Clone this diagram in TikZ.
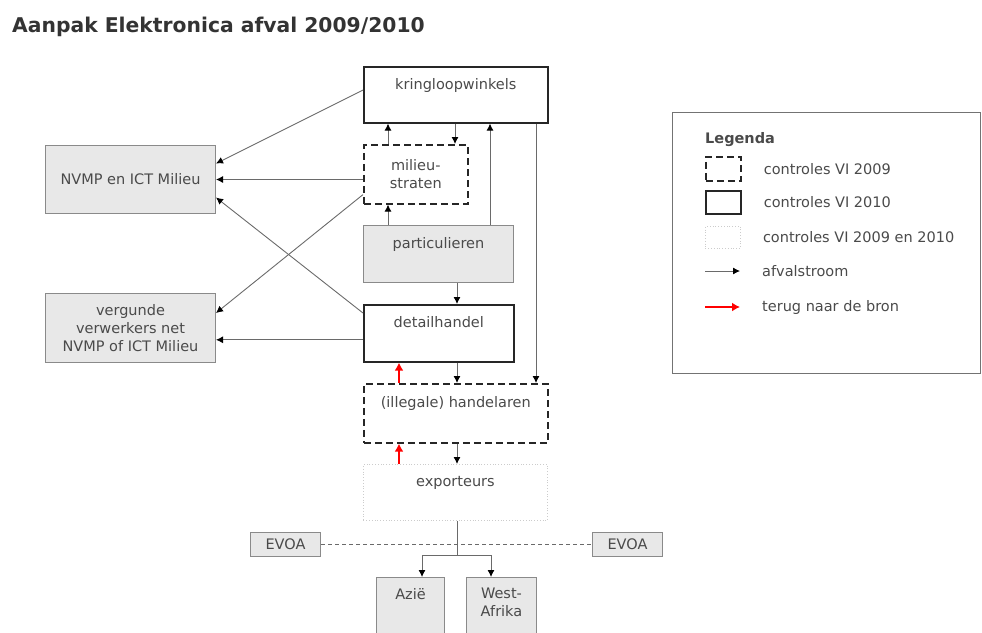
\documentclass[tikz,border=0pt]{standalone}
\usepackage{fontspec}
\setmainfont{DejaVu Sans}
\usetikzlibrary{arrows.meta,positioning}
\definecolor{tekst}{HTML}{4A4A4A}
\definecolor{vlak}{HTML}{E8E8E8}
\definecolor{rand}{HTML}{8A8A8A}
\definecolor{lijn}{HTML}{6A6A6A}

\begin{document}
\begin{tikzpicture}[x=1pt, y=-1pt,
    every node/.style={font=\fontsize{14.5}{18}\selectfont, text=tekst, inner sep=0pt},
    vak/.style={rectangle, anchor=north west},
    grijs/.style={vak, fill=vlak, draw=rand, line width=1pt},
    vi09/.style={vak, draw=black!85, line width=1.6pt, dash pattern=on 7pt off 4pt},
    vi10/.style={vak, draw=black!85, line width=1.6pt},
    vi0910/.style={vak, draw=black!20, line width=0.8pt, dotted},
    boven/.style={text height=11pt, text depth=22pt},
    stroom/.style={draw=lijn, line width=0.9pt, -{Latex[length=7pt,width=7pt,color=black]}},
    terug/.style={draw=red, line width=1.6pt, -{Latex[length=8pt,width=9pt,color=red]}}]
\useasboundingbox (0,0) rectangle (982,632);

\node[anchor=base west, text=black!80, font=\bfseries\fontsize{20.3}{24}\selectfont] (titel) at (12,32) {Aanpak Elektronica afval 2009/2010};

% schema
\node[vi10, boven, minimum width=184pt, minimum height=56pt] (kring) at (363,66) {kringloopwinkels};
\node[grijs, minimum width=170pt, minimum height=68pt] (nvmp) at (45,145) {NVMP en ICT Milieu};
\node[vi09, align=center, minimum width=104pt, minimum height=59pt] (milieu) at (363,144) {milieu-\\straten};
\node[grijs, boven, minimum width=150pt, minimum height=57pt] (part) at (363,225) {particulieren};
\node[vi10, boven, minimum width=150pt, minimum height=57pt] (detail) at (363,304) {detailhandel};
\node[grijs, align=center, minimum width=170pt, minimum height=69pt] (verg) at (45,293) {vergunde\\verwerkers net\\NVMP of ICT Milieu};
\node[vi09, boven, minimum width=184pt, minimum height=59pt] (hand) at (363,383) {(illegale) handelaren};
\node[vi0910, boven, minimum width=184pt, minimum height=56pt] (exp) at (363,464) {exporteurs};
\node[grijs, minimum width=70pt, minimum height=24pt] (evoaL) at (250,532) {EVOA};
\node[grijs, minimum width=70pt, minimum height=24pt] (evoaR) at (592,532) {EVOA};
\node[grijs, text height=11pt, text depth=30pt, minimum width=68pt, minimum height=62pt] (azie) at (376,577) {Azië};
\node[grijs, align=center, text depth=12pt, minimum width=70pt, minimum height=62pt] (west) at (466,577) {West-\\Afrika};

\draw[stroom] ([yshift=-24pt]kring.north west) -- ([yshift=16pt]nvmp.east);
\draw[stroom] (milieu.west |- nvmp.east) -- (nvmp.east);
\draw[stroom] ([yshift=-9pt]detail.north west) -- ([yshift=-18pt]nvmp.east);
\draw[stroom] ([yshift=10pt]milieu.south west) -- ([yshift=-20pt]verg.north east);
\draw[stroom] ([yshift=-6.5pt]detail.west) -- ([yshift=-6.5pt]detail.west -| verg.east);
\draw[stroom] ([xshift=25pt]milieu.north west) -- ([xshift=25pt]kring.south west);
\draw[stroom] ([xshift=92pt]kring.south west) -- ([xshift=92pt]milieu.north west);
\draw[stroom] ([xshift=25pt]part.north west) -- ([xshift=25pt]milieu.south west);
\draw[stroom] ([xshift=127pt]part.north west) -- ([xshift=127pt]kring.south west);
\draw[stroom] ([xshift=94pt]part.south west) -- ([xshift=94pt]detail.north west);
\draw[stroom] ([xshift=94pt]detail.south west) -- ([xshift=94pt]hand.north west);
\draw[stroom] ([xshift=173pt]kring.south west) -- ([xshift=173pt]hand.north west);
\draw[stroom] ([xshift=94pt]hand.south west) -- ([xshift=94pt]exp.north west);
\draw[terug] ([xshift=36pt]hand.north west) -- ([xshift=36pt]detail.south west);
\draw[terug] ([xshift=36pt]exp.north west) -- ([xshift=36pt]hand.south west);

\draw[draw=lijn, dash pattern=on 4pt off 3pt, line width=0.8pt] (evoaL) -- (evoaR);
\coordinate (splits) at ([xshift=94pt,yshift=-35pt]exp.south west);
\draw[draw=lijn, line width=0.9pt] ([xshift=94pt]exp.south west) -- (splits);
\draw[stroom] (splits) -| ([xshift=46pt]azie.north west);
\draw[stroom] (splits) -| ([xshift=25pt]west.north west);

% legenda
\node[vak, draw=black!55, line width=1pt, minimum width=308pt, minimum height=261pt] (legenda) at (672,112) {};
\node[anchor=base west, font=\bfseries\fontsize{14.5}{18}\selectfont] (legtitel) at (705,143) {Legenda};
\node[vi09, minimum width=35pt, minimum height=24pt] (ic09) at (705,156) {};
\node[vi10, minimum width=35pt, minimum height=23pt] (ic10) at (705,190) {};
\node[vi0910, minimum width=35pt, minimum height=22pt] (ic0910) at (705,226) {};
\coordinate (zwartA) at (705,271);
\coordinate (zwartB) at (740,271);
\coordinate (roodA) at (705,307);
\coordinate (roodB) at (740,307);
\draw[stroom] (zwartA) -- (zwartB);
\draw[terug] (roodA) -- (roodB);
\node[right=22pt of ic09] (t09) {controles VI 2009};
\node[right=22pt of ic10] (t10) {controles VI 2010};
\node[right=22pt of ic0910] (t0910) {controles VI 2009 en 2010};
\node[right=22pt of zwartB] (tzwart) {afvalstroom};
\node[right=22pt of roodB] (trood) {terug naar de bron};
\end{tikzpicture}
\end{document}
